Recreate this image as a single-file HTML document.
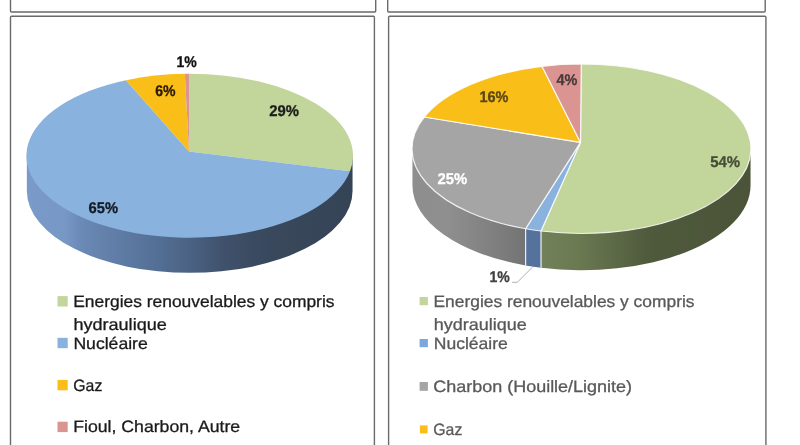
<!DOCTYPE html>
<html lang="fr"><head><meta charset="utf-8"><title>Mix électrique</title>
<style>html,body{margin:0;padding:0;background:#fff;}body{width:800px;height:445px;overflow:hidden;position:relative;font-family:"Liberation Sans",sans-serif;}svg{display:block;position:absolute;left:-20px;top:-20px;filter:blur(0.4px);}</style>
</head><body>
<svg width="840" height="485" viewBox="-20 -20 840 485" text-rendering="geometricPrecision">
<defs>
<linearGradient id="gLs" gradientUnits="userSpaceOnUse" x1="26" y1="0" x2="354" y2="0">
<stop offset="0" stop-color="#7a9bc9"/><stop offset="0.12" stop-color="#7797c5"/><stop offset="0.165" stop-color="#6b8ab7"/><stop offset="0.203" stop-color="#6685b0"/><stop offset="0.302" stop-color="#5d7aa3"/><stop offset="0.401" stop-color="#546f95"/><stop offset="0.5" stop-color="#4a6283"/><stop offset="0.599" stop-color="#40526c"/><stop offset="0.698" stop-color="#3a4a60"/><stop offset="0.797" stop-color="#384759"/><stop offset="1" stop-color="#354356"/>
</linearGradient>
<linearGradient id="gRgray" gradientUnits="userSpaceOnUse" x1="412" y1="0" x2="526" y2="0">
<stop offset="0" stop-color="#8e8e8e"/><stop offset="0.3" stop-color="#8f8f8f"/><stop offset="0.55" stop-color="#868686"/><stop offset="0.8" stop-color="#7c7c7c"/><stop offset="1" stop-color="#737373"/>
</linearGradient>
<linearGradient id="gRgreen" gradientUnits="userSpaceOnUse" x1="541" y1="0" x2="751" y2="0">
<stop offset="0" stop-color="#71815a"/><stop offset="0.186" stop-color="#6a7950"/><stop offset="0.386" stop-color="#5a6644"/><stop offset="0.52" stop-color="#4f593c"/><stop offset="1" stop-color="#4b5438"/>
</linearGradient>
</defs>
<rect x="-20" y="-20" width="840" height="485" fill="#fff"/>
<g fill="none" stroke="#6a6a6a" stroke-width="1.4">
<path d="M10.5,-18 V11 Q10.5,12 11.5,12 H374.7 Q375.7,12 375.7,11 V-18"/>
<path d="M387.7,-18 V11 Q387.7,12 388.7,12 H764.2 Q765.2,12 765.2,11 V-18"/>
<path d="M10.5,463 V17.3 Q10.5,16.3 11.5,16.3 H373.4 Q374.4,16.3 374.4,17.3 V463"/>
<path d="M388.6,463 V17.3 Q388.6,16.3 389.6,16.3 H764.9 Q765.9,16.3 765.9,17.3 V463"/>
</g>
<g>
<path d="M352.55,154.50 A162.85,82.00 0 0 1 26.85,154.50 L26.85,190.90 A162.85,82.00 0 0 0 352.55,190.90 Z" fill="url(#gLs)"/>
</g>
<path d="M189.00,151.50 L189.40,73.70 A163.30,82.00 0 0 1 350.00,171.35 Z" fill="#c2d59a"/>
<path d="M189.00,151.50 L350.00,171.35 A163.30,82.00 0 1 1 126.00,80.20 Z" fill="#8ab2de"/>
<path d="M189.00,151.50 L126.00,80.20 A163.30,82.00 0 0 1 184.80,73.74 Z" fill="#fabe19"/>
<path d="M189.00,151.50 L184.80,73.74 A163.30,82.00 0 0 1 189.40,73.70 Z" fill="#da9593"/>
<path d="M525.75,227.56 A169.05,84.75 0 0 1 412.45,147.55 L412.45,185.45 A169.05,84.75 0 0 0 525.75,265.46 Z" fill="url(#gRgray)"/>
<path d="M541.11,229.85 A169.05,84.75 0 0 1 525.75,227.56 L525.75,265.46 A169.05,84.75 0 0 0 541.11,267.75 Z" fill="#54729c"/>
<path d="M750.55,147.55 A169.05,84.75 0 0 1 541.11,229.85 L541.11,267.75 A169.05,84.75 0 0 0 750.55,185.45 Z" fill="url(#gRgreen)"/>
<line x1="541.00" y1="231.05" x2="541.00" y2="267.75" stroke="#fff" stroke-opacity="0.85" stroke-width="1.2"/>
<line x1="525.60" y1="228.76" x2="525.60" y2="265.46" stroke="#fff" stroke-opacity="0.85" stroke-width="1.2"/>
<path d="M580.50,142.40 L581.25,64.00 A169.50,84.75 0 1 1 541.00,231.05 Z" fill="#c2d59a" stroke="#fff" stroke-opacity="0.85" stroke-width="1.15" stroke-linejoin="round"/>
<path d="M580.50,142.40 L541.00,231.05 A169.50,84.75 0 0 1 525.60,228.76 Z" fill="#8ab2de" stroke="#fff" stroke-opacity="0.85" stroke-width="1.15" stroke-linejoin="round"/>
<path d="M580.50,142.40 L525.60,228.76 A169.50,84.75 0 0 1 424.30,117.05 Z" fill="#a5a5a5" stroke="#fff" stroke-opacity="0.85" stroke-width="1.15" stroke-linejoin="round"/>
<path d="M580.50,142.40 L424.30,117.05 A169.50,84.75 0 0 1 542.00,66.33 Z" fill="#fabe19" stroke="#fff" stroke-opacity="0.85" stroke-width="1.15" stroke-linejoin="round"/>
<path d="M580.50,142.40 L542.00,66.33 A169.50,84.75 0 0 1 581.25,64.00 Z" fill="#da9593" stroke="#fff" stroke-opacity="0.85" stroke-width="1.15" stroke-linejoin="round"/>
<polyline points="512.2,282.3 517.3,282.3 532.3,267.3" fill="none" stroke="#a6a6a6" stroke-width="0.9"/>
<text x="176.50" y="67.25" textLength="20.30" lengthAdjust="spacingAndGlyphs" font-family="'Liberation Sans', sans-serif" font-weight="700" font-size="15.5" fill="#111111" stroke="#111111" stroke-width="0.3">1%</text>
<text x="155.20" y="96.35" textLength="20.30" lengthAdjust="spacingAndGlyphs" font-family="'Liberation Sans', sans-serif" font-weight="700" font-size="15.5" fill="#2a1a05" stroke="#2a1a05" stroke-width="0.3">6%</text>
<text x="269.20" y="116.25" textLength="29.70" lengthAdjust="spacingAndGlyphs" font-family="'Liberation Sans', sans-serif" font-weight="700" font-size="15.5" fill="#1c1c1c" stroke="#1c1c1c" stroke-width="0.3">29%</text>
<text x="88.50" y="212.65" textLength="29.50" lengthAdjust="spacingAndGlyphs" font-family="'Liberation Sans', sans-serif" font-weight="700" font-size="15.5" fill="#141b26" stroke="#141b26" stroke-width="0.3">65%</text>
<text x="556.50" y="85.15" textLength="20.90" lengthAdjust="spacingAndGlyphs" font-family="'Liberation Sans', sans-serif" font-weight="700" font-size="15.5" fill="#4a3a3a" stroke="#4a3a3a" stroke-width="0.3">4%</text>
<text x="479.50" y="101.65" textLength="28.90" lengthAdjust="spacingAndGlyphs" font-family="'Liberation Sans', sans-serif" font-weight="700" font-size="15.5" fill="#5a4716" stroke="#5a4716" stroke-width="0.3">16%</text>
<text x="437.50" y="183.95" textLength="29.70" lengthAdjust="spacingAndGlyphs" font-family="'Liberation Sans', sans-serif" font-weight="700" font-size="15.5" fill="#ffffff" stroke="#ffffff" stroke-width="0.3">25%</text>
<text x="710.20" y="166.65" textLength="30.00" lengthAdjust="spacingAndGlyphs" font-family="'Liberation Sans', sans-serif" font-weight="700" font-size="15.5" fill="#464f36" stroke="#464f36" stroke-width="0.3">54%</text>
<text x="489.50" y="281.95" textLength="20.30" lengthAdjust="spacingAndGlyphs" font-family="'Liberation Sans', sans-serif" font-weight="700" font-size="15.5" fill="#404040" stroke="#404040" stroke-width="0.3">1%</text>
<rect x="57.5" y="296.1" width="10.2" height="10.4" fill="#c2d59a"/>
<text x="73.20" y="306.50" textLength="261.30" lengthAdjust="spacingAndGlyphs" font-family="'Liberation Sans', sans-serif" font-size="16.5" fill="#1a1a1a" stroke="#1a1a1a" stroke-width="0.3">Energies renouvelables y compris</text>
<text x="73.40" y="330.10" textLength="93.40" lengthAdjust="spacingAndGlyphs" font-family="'Liberation Sans', sans-serif" font-size="16.5" fill="#1a1a1a" stroke="#1a1a1a" stroke-width="0.3">hydraulique</text>
<rect x="57.5" y="337.8" width="10.2" height="10.4" fill="#8ab2de"/>
<text x="73.40" y="349.10" textLength="74.40" lengthAdjust="spacingAndGlyphs" font-family="'Liberation Sans', sans-serif" font-size="16.5" fill="#1a1a1a" stroke="#1a1a1a" stroke-width="0.3">Nucléaire</text>
<rect x="57.5" y="379.9" width="10.2" height="10.4" fill="#fabe19"/>
<text x="73.30" y="390.50" textLength="29.00" lengthAdjust="spacingAndGlyphs" font-family="'Liberation Sans', sans-serif" font-size="16.5" fill="#1a1a1a" stroke="#1a1a1a" stroke-width="0.3">Gaz</text>
<rect x="57.5" y="421.7" width="10.2" height="10.4" fill="#da9593"/>
<text x="73.20" y="432.30" textLength="167.00" lengthAdjust="spacingAndGlyphs" font-family="'Liberation Sans', sans-serif" font-size="16.5" fill="#1a1a1a" stroke="#1a1a1a" stroke-width="0.3">Fioul, Charbon, Autre</text>
<rect x="419.6" y="297.0" width="8.3" height="8.2" fill="#c2d59a"/>
<text x="433.50" y="306.50" textLength="261.00" lengthAdjust="spacingAndGlyphs" font-family="'Liberation Sans', sans-serif" font-size="16.5" fill="#595959" stroke="#595959" stroke-width="0.3">Energies renouvelables y compris</text>
<text x="433.80" y="330.10" textLength="93.00" lengthAdjust="spacingAndGlyphs" font-family="'Liberation Sans', sans-serif" font-size="16.5" fill="#595959" stroke="#595959" stroke-width="0.3">hydraulique</text>
<rect x="419.6" y="339.0" width="8.3" height="8.2" fill="#7ba7dc"/>
<text x="433.80" y="349.20" textLength="74.00" lengthAdjust="spacingAndGlyphs" font-family="'Liberation Sans', sans-serif" font-size="16.5" fill="#595959" stroke="#595959" stroke-width="0.3">Nucléaire</text>
<rect x="419.6" y="382.0" width="8.3" height="8.8" fill="#a5a5a5"/>
<text x="433.20" y="391.90" textLength="198.90" lengthAdjust="spacingAndGlyphs" font-family="'Liberation Sans', sans-serif" font-size="16.5" fill="#595959" stroke="#595959" stroke-width="0.3">Charbon (Houille/Lignite)</text>
<rect x="419.9" y="425.4" width="7.7" height="8.0" fill="#fabe19"/>
<text x="433.30" y="434.60" textLength="29.00" lengthAdjust="spacingAndGlyphs" font-family="'Liberation Sans', sans-serif" font-size="16.5" fill="#595959" stroke="#595959" stroke-width="0.3">Gaz</text>
</svg>
</body></html>
